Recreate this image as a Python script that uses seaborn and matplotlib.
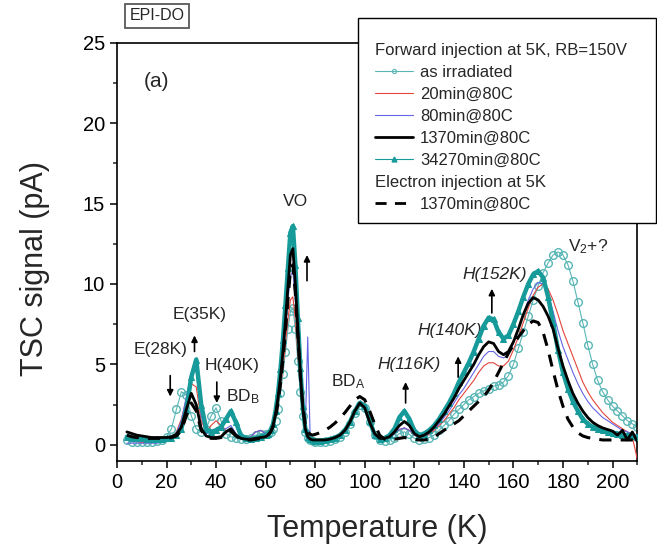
import matplotlib
matplotlib.use('Agg')
import matplotlib.pyplot as plt
import seaborn as sns
from matplotlib.lines import Line2D
from matplotlib.patches import Rectangle
from matplotlib.ticker import MultipleLocator

# temperature grid (K)
temp = [4, 6, 8, 10, 12, 14, 16, 18, 20, 22, 24, 26, 28, 30, 32, 34, 36, 38, 40, 42,
        44, 46, 48, 50, 52, 54, 56, 58, 60,
        61, 62, 63, 64, 65, 66, 67, 68, 69, 70, 71, 72, 73, 74, 75, 76, 77, 78, 79,
        80, 82, 84, 86, 88, 90, 92, 94, 96, 98, 100, 102, 104, 106, 108, 110, 112, 114, 116, 118,
        120, 122, 124, 126, 128, 130, 132, 134, 136, 138, 140, 142, 144, 146, 148, 150, 152, 154, 156, 158,
        160, 162, 164, 166, 168, 170, 172, 174, 176, 178, 180, 182, 184, 186, 188, 190, 192, 194, 196, 198,
        200, 202, 204, 206, 208, 210]

# TSC signal (pA) per annealing step
as_irr = [0.3, 0.2, 0.2, 0.2, 0.2, 0.2, 0.25, 0.3, 0.5, 1.0, 2.2, 3.3, 3.1, 1.8, 1.0, 0.8, 1.0, 1.8, 2.3, 1.5,
          0.7, 0.5, 0.4, 0.35, 0.35, 0.4, 0.6, 0.7, 0.7,
          0.7, 0.8, 1.0, 1.5, 2.2, 3.2, 4.4, 5.8, 7.2, 8.3, 8.5, 7.2, 5.2, 3.3, 1.8, 0.8, 0.4, 0.3, 0.25,
          0.2, 0.2, 0.2, 0.25, 0.35, 0.5, 0.8, 1.3, 2.0, 2.5, 2.3, 1.4, 0.6, 0.3, 0.25, 0.3, 0.45, 0.7, 0.8, 0.65,
          0.4, 0.3, 0.35, 0.45, 0.6, 0.9, 1.2, 1.5, 1.9, 2.2, 2.5, 2.8, 3.0, 3.2, 3.35, 3.5, 3.65, 3.7, 3.9, 4.3,
          5.0, 6.0, 7.0, 8.0, 9.0, 9.9, 10.7, 11.3, 11.8, 12.0, 11.8, 11.2, 10.2, 8.9, 7.6, 6.2, 5.0, 4.0, 3.3, 2.8,
          2.4, 2.1, 1.8, 1.5, 1.3, 1.1]

m20 = [0.3, 0.2, 0.2, 0.15, 0.15, 0.15, 0.15, 0.2, 0.25, 0.4, 0.8, 1.6, 2.8, 3.8, 3.6, 1.5, 0.8, 1.2, 1.5, 1.2,
       0.9, 0.9, 0.6, 0.4, 0.4, 0.5, 0.8, 0.9, 0.7,
       0.7, 0.8, 1.1, 1.6, 2.4, 3.5, 4.8, 6.3, 7.8, 9.0, 9.2, 7.8, 5.6, 3.6, 1.9, 0.9, 0.4, 0.3, 0.25,
       0.2, 0.2, 0.25, 0.3, 0.4, 0.6, 0.9, 1.4, 2.0, 2.5, 2.3, 1.4, 0.6, 0.35, 0.35, 0.45, 0.7, 0.95, 1.05, 0.9,
       0.6, 0.45, 0.5, 0.65, 0.9, 1.2, 1.5, 1.9, 2.3, 2.8, 3.2, 3.6, 4.0, 4.5, 4.9, 5.1, 5.1, 4.9, 4.9, 5.2,
       5.9, 6.7, 7.6, 8.5, 9.3, 9.8, 10.0, 9.7, 9.0, 8.1, 7.1, 6.3, 5.5, 4.7, 3.9, 3.3, 2.8, 2.4, 2.0, 1.7,
       1.4, 1.2, 1.0, 0.8, 0.5, -0.9]

m80 = [0.1, 0.1, 0.1, 0.1, 0.1, 0.1, 0.1, 0.15, 0.2, 0.35, 0.7, 1.5, 3.0, 4.4, 4.6, 1.8, 0.7, 0.8, 1.0, 0.9,
       1.0, 1.2, 0.7, 0.4, 0.4, 0.5, 0.8, 0.9, 0.7,
       0.7, 0.8, 1.1, 1.8, 2.7, 3.9, 5.4, 7.2, 9.0, 10.5, 10.8, 9.0, 6.5, 4.1, 2.1, 0.9, 6.7, 0.3, 0.25,
       0.2, 0.2, 0.25, 0.3, 0.4, 0.6, 0.9, 1.4, 2.0, 2.5, 2.3, 1.4, 0.6, 0.35, 0.35, 0.45, 0.7, 0.95, 1.05, 0.9,
       0.6, 0.45, 0.5, 0.7, 1.0, 1.3, 1.7, 2.1, 2.6, 3.1, 3.5, 4.0, 4.5, 5.0, 5.5, 5.8, 5.8, 5.5, 5.4, 5.6,
       6.3, 7.2, 8.1, 9.0, 9.7, 10.1, 10.0, 9.4, 8.3, 7.1, 6.1, 5.3, 4.5, 3.8, 3.2, 2.7, 2.3, 2.0, 1.7, 1.5,
       1.3, 1.1, 0.9, 0.8, 0.7, 0.6]

m1370 = [0.8, 0.7, 0.6, 0.55, 0.5, 0.45, 0.45, 0.45, 0.45, 0.5, 0.65, 1.1, 2.2, 3.2, 2.5, 1.0, 0.55, 0.45, 0.45, 0.5,
         0.8, 1.0, 0.6, 0.4, 0.35, 0.35, 0.4, 0.45, 0.5,
         0.6, 0.8, 1.2, 1.9, 2.9, 4.2, 5.8, 7.7, 9.8, 11.8, 12.2, 10.0, 7.2, 4.5, 2.3, 1.0, 0.5, 0.35, 0.3,
         0.3, 0.3, 0.3, 0.35, 0.45, 0.6, 0.9, 1.4, 2.1, 2.6, 2.3, 1.4, 0.7, 0.4, 0.4, 0.5, 0.8, 1.2, 1.45, 1.2,
         0.7, 0.5, 0.6, 0.8, 1.1, 1.5, 1.9, 2.4, 2.9, 3.5, 4.0, 4.5, 5.0, 5.6, 6.1, 6.4, 6.3, 5.8, 5.6, 5.8,
         6.4, 7.2, 8.1, 8.8, 9.15, 9.0, 8.6, 8.0, 7.2, 6.0, 4.9, 4.0, 3.2, 2.6, 2.1, 1.7, 1.4, 1.2, 1.05, 0.95,
         0.85, 0.6, 0.9, 0.3, 0.8, 0.2]

m34270 = [0.5, 0.45, 0.4, 0.4, 0.35, 0.35, 0.35, 0.35, 0.4, 0.45, 0.6, 1.0, 2.2, 4.2, 5.3, 2.5, 1.0, 0.8, 0.9, 1.1,
          1.6, 2.1, 1.4, 0.6, 0.4, 0.35, 0.4, 0.5, 0.6,
          0.7, 0.9, 1.3, 2.1, 3.2, 4.7, 6.5, 8.7, 11.0, 13.2, 13.6, 11.2, 7.9, 4.8, 2.4, 1.0, 0.5, 0.35, 0.3,
          0.25, 0.25, 0.3, 0.35, 0.45, 0.6, 0.9, 1.4, 2.1, 2.6, 2.4, 1.5, 0.6, 0.35, 0.4, 0.6, 1.0, 1.7, 2.1, 1.6,
          0.9, 0.6, 0.7, 0.9, 1.2, 1.6, 2.1, 2.6, 3.2, 3.9, 4.5, 5.1, 5.8, 6.6, 7.4, 7.9, 7.8, 7.0, 6.6, 6.8,
          7.5, 8.3, 9.2, 10.0, 10.6, 10.8, 10.4, 9.2, 7.6, 5.9, 4.5, 3.5, 2.7, 2.1, 1.6, 1.3, 1.1, 1.0, 0.9, 0.8,
          0.75, 0.7, 0.6, 0.6, 0.55, 0.5]

e1370 = [0.6, 0.5, 0.45, 0.45, 0.4, 0.4, 0.4, 0.4, 0.4, 0.45, 0.55, 0.9, 1.8, 2.6, 2.1, 0.9, 0.5, 0.4, 0.4, 0.45,
         0.7, 0.85, 0.55, 0.35, 0.3, 0.3, 0.35, 0.4, 0.5,
         0.6, 0.8, 1.1, 1.7, 2.6, 3.8, 5.3, 7.1, 9.0, 10.8, 11.2, 9.4, 6.8, 4.3, 2.4, 1.3, 0.8, 0.65, 0.6,
         0.65, 0.75, 0.9, 1.1, 1.35, 1.65, 2.0, 2.4, 2.8, 3.0, 2.8, 2.1, 1.3, 0.6, 0.35, 0.3, 0.35, 0.4, 0.45, 0.4,
         0.35, 0.3, 0.3, 0.35, 0.45, 0.7, 0.9, 1.1, 1.3, 1.5, 1.8, 2.1, 2.4, 2.7, 3.0, 3.4, 3.9, 4.5, 5.1, 5.7,
         6.2, 6.7, 7.1, 7.5, 7.7, 7.6, 7.0, 5.9, 4.6, 3.4, 2.4, 1.6, 1.1, 0.75, 0.55, 0.45, 0.4, 0.35, 0.3, 0.3,
         0.3, 0.3, 0.3, 0.3, 0.3, 0.3]

teal_lt = '#5ab6b6'
teal_dk = '#169a9a'
red = '#e4453c'
blue = '#6464e6'

sns.set_style('ticks')
plt.rcParams['font.family'] = ['Liberation Sans', 'DejaVu Sans']
plt.rcParams['mathtext.fontset'] = 'custom'
plt.rcParams['mathtext.rm'] = 'Liberation Sans'
plt.rcParams['mathtext.it'] = 'Liberation Sans:italic'
plt.rcParams['mathtext.default'] = 'regular'

fig = plt.figure(figsize=(6.57, 5.48), dpi=100)
ax = fig.add_axes([0.178, 0.159, 0.792, 0.763])

sns.lineplot(x=temp, y=as_irr, ax=ax, color=teal_lt, lw=0.8, marker='o', ms=5.5,
             mfc='none', mec=teal_lt, mew=1.0, errorbar=None, zorder=2)
sns.lineplot(x=temp, y=m20, ax=ax, color=red, lw=0.8, errorbar=None, zorder=3)
sns.lineplot(x=temp, y=m80, ax=ax, color=blue, lw=0.8, errorbar=None, zorder=3)
sns.lineplot(x=temp, y=m34270, ax=ax, color=teal_dk, lw=3.2, marker='^', ms=4.5,
             mec=teal_dk, mfc=teal_dk, errorbar=None, zorder=4)
sns.lineplot(x=temp, y=m1370, ax=ax, color='black', lw=2.0, errorbar=None, zorder=5)
sns.lineplot(x=temp, y=e1370, ax=ax, color='black', lw=2.2, dashes=(4, 3),
             errorbar=None, zorder=5)

ax.set_xlim(0, 210)
ax.set_ylim(-1, 25)
ax.xaxis.set_major_locator(MultipleLocator(20))
ax.xaxis.set_minor_locator(MultipleLocator(10))
ax.yaxis.set_major_locator(MultipleLocator(5))
ax.yaxis.set_minor_locator(MultipleLocator(2.5))
ax.tick_params(which='major', length=5, width=1.1, labelsize=14.5, direction='out', colors='black')
ax.tick_params(which='minor', length=3, width=1.1, direction='out')
for sp in ax.spines.values():
    sp.set_color('black')
    sp.set_linewidth(1.2)

ax.set_xlabel('Temperature (K)', fontsize=22, labelpad=16)
ax.set_ylabel('TSC signal (pA)', fontsize=22)
ax.yaxis.set_label_coords(-0.128, 0.46)

# peak labels
ax.text(15.8, 22.6, '(a)', fontsize=15, ha='center', va='center')
ax.text(71.9, 15.1, 'VO', fontsize=12.5, ha='center', va='center')
ax.text(17.6, 5.9, 'E(28K)', fontsize=12.5, ha='center', va='center')
ax.text(33.3, 8.1, 'E(35K)', fontsize=12.5, ha='center', va='center')
ax.text(46.4, 4.9, 'H(40K)', fontsize=12.5, ha='center', va='center')
ax.text(51.0, 3.0, 'BD$_B$', fontsize=12.5, ha='center', va='center')
ax.text(93.5, 3.9, 'BD$_A$', fontsize=12.5, ha='center', va='center')
ax.text(118.0, 5.0, 'H(116K)', fontsize=12.5, style='italic', ha='center', va='center')
ax.text(134.5, 7.1, 'H(140K)', fontsize=12.5, style='italic', ha='center', va='center')
ax.text(152.3, 10.6, 'H(152K)', fontsize=12.5, style='italic', ha='center', va='center')
ax.text(190.2, 12.3, 'V$_2$+?', fontsize=12.5, ha='center', va='center')

arrows = [(21.5, 4.3, 3.0), (31.3, 5.8, 6.8), (40.3, 3.9, 2.6), (76.7, 10.2, 11.8),
          (116.5, 2.6, 3.9), (137.7, 4.2, 5.5), (151.3, 8.2, 9.7)]
for t, y0, y1 in arrows:
    ax.annotate('', xy=(t, y1), xytext=(t, y0),
                arrowprops=dict(arrowstyle='-|>', color='black', lw=1.2,
                                mutation_scale=9, shrinkA=0, shrinkB=0))

# legend: own frame, entries placed inside it
frame = Rectangle((0.545, 0.593), 0.4536, 0.374, transform=fig.transFigure,
                  fc='white', ec='black', lw=1.0, zorder=4)
fig.add_artist(frame)

blank = Line2D([], [], color='none')
handles = [blank,
           Line2D([], [], color=teal_lt, lw=0.8, marker='o', ms=3, mfc='none', mew=0.8),
           Line2D([], [], color=red, lw=0.8),
           Line2D([], [], color=blue, lw=0.8),
           Line2D([], [], color='black', lw=2.0),
           Line2D([], [], color=teal_dk, lw=0.8, marker='^', ms=3.5),
           blank,
           Line2D([], [], color='black', lw=2.0, dashes=(4, 3))]
labels = ['Forward injection at 5K, RB=150V', 'as irradiated', '20min@80C',
          '80min@80C', '1370min@80C', '34270min@80C', 'Electron injection at 5K',
          '1370min@80C']
leg = fig.legend(handles, labels, loc='upper left', bbox_to_anchor=(0.5708, 0.922),
                 bbox_transform=fig.transFigure, frameon=False, fontsize=12,
                 handlelength=2.3, handletextpad=0.4, labelspacing=0.42,
                 borderpad=0, borderaxespad=0)
leg.set_zorder(6)
for i in (0, 6):
    leg.get_texts()[i].set_x(-45)

fig.text(0.239, 0.971, 'EPI-DO', fontsize=11.5, ha='center', va='center',
         bbox=dict(boxstyle='square,pad=0.3', fc='white', ec='0.35', lw=1.3))

fig.savefig('out.png', dpi=100)
